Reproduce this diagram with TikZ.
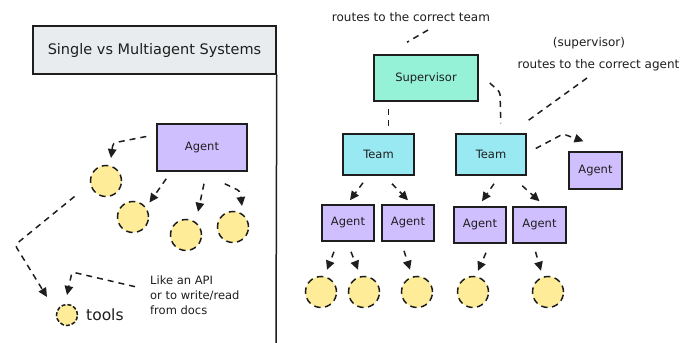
\documentclass[tikz,border=0pt]{standalone}
\usepackage{fontspec}
\setmainfont{DejaVu Sans}
\usetikzlibrary{arrows.meta}
\definecolor{ink}{HTML}{1E1E1E}
\definecolor{titlefill}{HTML}{E9ECEF}
\definecolor{agentfill}{HTML}{D0BFFF}
\definecolor{supfill}{HTML}{96F2D7}
\definecolor{teamfill}{HTML}{99E9F2}
\definecolor{toolfill}{HTML}{FFEC99}
\tikzset{
  box/.style={draw=ink, line width=1.5pt, rectangle, inner sep=0pt, font=\fontsize{11.5}{13}\selectfont, text=ink},
  agentbox/.style={box, fill=agentfill},
  teambox/.style={box, fill=teamfill},
  supbox/.style={box, fill=supfill},
  tool/.style={circle, draw=ink, fill=toolfill, line width=1.5pt, dash pattern=on 6.5pt off 4.5pt, minimum size=31pt, inner sep=0pt},
  link/.style={draw=ink, line width=1.5pt, dash pattern=on 6pt off 5pt, rounded corners=3pt},
  arr/.style={link, -{Triangle[length=9pt,width=8.5pt]}},
  note/.style={font=\fontsize{12}{16}\selectfont, text=ink, inner sep=0pt}
}
\begin{document}
\begin{tikzpicture}[x=1pt,y=-1pt]
\useasboundingbox (0,0) rectangle (686,343);
\fill[white] (0,0) rectangle (686,343);

% ---- left panel: single agent ----
\node[draw=ink, fill=titlefill, line width=1.5pt, minimum width=243pt, minimum height=48pt, inner sep=0pt,
      font=\fontsize{14.5}{16}\selectfont, text=ink] (title) at (154.5,50) {Single vs Multiagent Systems};
\coordinate (panelend) at (276,343);
\draw[draw=ink, line width=1.5pt] (title.south east) -- (panelend);

\node[agentbox, minimum width=90pt, minimum height=47pt] (agent) at (202,147.5) {Agent};

\node[tool] (c1) at (106,181) {};
\node[tool] (c2) at (133,217) {};
\node[tool] (c3) at (186,235) {};
\node[tool] (c4) at (233,227) {};

\node[tool, minimum size=21pt, dash pattern=on 4pt off 2pt] (legend) at (67,315) {};
\node[anchor=west, inner sep=0pt, font=\fontsize{15.5}{17}\selectfont, text=ink] (toolslbl) at (86,315) {tools};
\node[note, anchor=north west, align=left, font=\fontsize{11.5}{15}\selectfont] (apinote) at (150,276) {Like an API\\or to write/read\\from docs};

\draw[arr] ([shift={(-10,-11)}]agent.west) -- (113,143) -- (111,158);
\draw[arr] ([shift={(10,7)}]agent.south west) -- ([shift={(5,-3)}]c2.north east);
\draw[arr] ([shift={(2,12)}]agent.south) -- ([shift={(12,-7)}]c3.north);
\draw[arr] ([shift={(-23,12)}]agent.south east) -- (240,191) -- (242,206);
\draw[arr] ([shift={(-20,4)}]c1.south west) -- (15,245) -- (47,297);
\draw[arr] ([shift={(-15,-9)}]apinote.west) -- (72,272) -- (67,295);

% ---- right panel: supervisor hierarchy ----
\node[note] (teamnote) at (411,17) {routes to the correct team};
\node[note] (supnote) at (589,43) {(supervisor)};
\node[note] (agentnote) at (598.5,65) {routes to the correct agent};

\node[supbox, minimum width=104pt, minimum height=46pt] (sup) at (426,78) {Supervisor};
\node[teambox, minimum width=71pt, minimum height=41pt] (team1) at (378.5,154.5) {Team};
\node[teambox, minimum width=70pt, minimum height=41pt] (team2) at (491,154.5) {Team};
\node[agentbox, minimum width=53pt, minimum height=37pt] (agentr) at (595.5,170.5) {Agent};

\node[agentbox, minimum width=52pt, minimum height=36pt] (a1) at (348,223) {Agent};
\node[agentbox, minimum width=52pt, minimum height=36pt] (a2) at (408,223) {Agent};
\node[agentbox, minimum width=52pt, minimum height=36pt] (a3) at (480,225) {Agent};
\node[agentbox, minimum width=53pt, minimum height=36pt] (a4) at (539.5,225) {Agent};

\node[tool] (t1) at (321,292) {};
\node[tool] (t2) at (364,292) {};
\node[tool] (t3) at (417,292) {};
\node[tool] (t4) at (473,292) {};
\node[tool] (t5) at (548,292) {};

% annotation and hand-off lines
\draw[link] (428,30) -- ([shift={(-19,-12)}]sup.north);
\draw[link] ([shift={(15,7)}]sup.south west) -- ([shift={(46,-4)}]team1.north west);
\draw[link] ([shift={(11,5)}]sup.east) -- (500,92) -- ([shift={(-26,-10)}]team2.north east);
\draw[link] (587,78) -- ([shift={(-1,-11)}]team2.north east);
\draw[arr] ([shift={(9,-6)}]team2.east) -- (563,134) -- ([shift={(-12,-10)}]agentr.north);

% team to agents
\draw[arr] ([shift={(-15.5,7)}]team1.south) -- ([shift={(2,-4)}]a1.north);
\draw[arr] ([shift={(13.5,8)}]team1.south) -- ([shift={(0,-4)}]a2.north);
\draw[arr] ([shift={(3,8)}]team2.south) -- ([shift={(2,-5)}]a3.north);
\draw[arr] ([shift={(67,10)}]team2.south west) -- ([shift={(0,-5)}]a4.north);

% agents to tools
\draw[arr] ([shift={(-14,10)}]a1.south) -- ([shift={(6,-6)}]t1.north);
\draw[arr] ([shift={(3,10)}]a1.south) -- ([shift={(-6,-6)}]t2.north);
\draw[arr] ([shift={(-4,9)}]a2.south) -- ([shift={(-7,-6)}]t3.north);
\draw[arr] ([shift={(6,9)}]a3.south) -- ([shift={(5,-5)}]t4.north);
\draw[arr] ([shift={(-4,8)}]a4.south) -- ([shift={(-7,-5)}]t5.north);
\end{tikzpicture}
\end{document}
